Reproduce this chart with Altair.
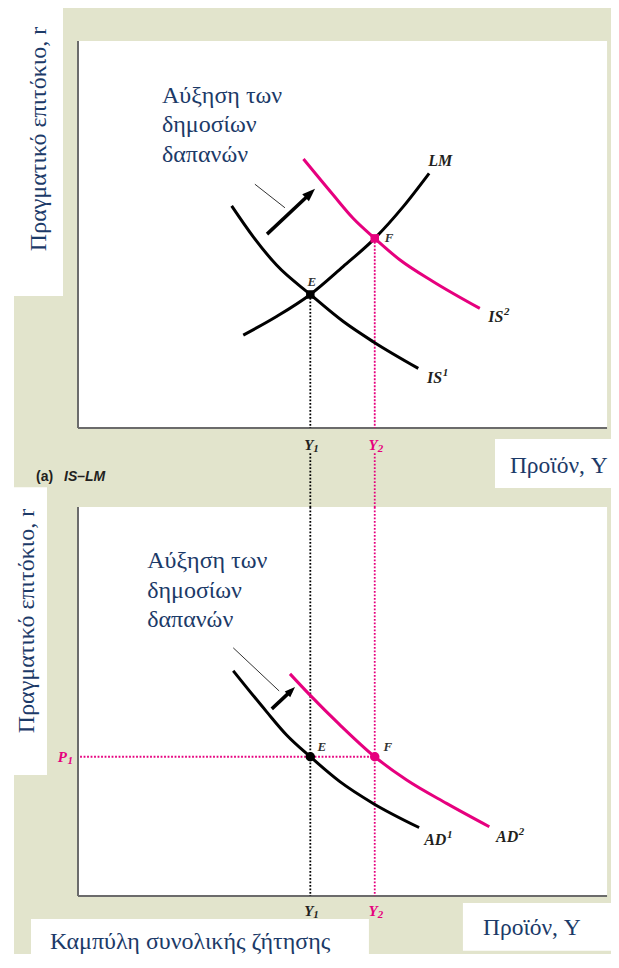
import altair as alt
import pandas as pd

# ---------------- data (output Y: 0-100 across a panel; r and P: 0-100 up a panel)
Y1, Y2 = 44.0, 56.2
R_E, R_F = 34.5, 49.0
P1 = 35.8

lm_u = [31.3, 37.6, 44.0, 50.2, 56.2, 61.6, 66.5]
lm_r = [24.0, 28.8, 34.5, 41.7, 49.0, 57.2, 65.8]
is1_u = [29.1, 33.2, 37.6, 44.0, 50.25, 55.9, 64.45]
is1_r = [57.4, 49.4, 42.1, 34.5, 27.5, 22.3, 15.4]
is2_u = [42.7, 48.35, 52.1, 56.2, 61.0, 67.3, 76.1]
is2_r = [69.5, 60.2, 54.2, 49.0, 43.4, 37.8, 30.9]
ad1_u = [29.4, 35.7, 39.5, 44.0, 49.6, 55.9, 64.6]
ad1_p = [57.9, 47.4, 41.4, 35.8, 29.4, 23.8, 17.6]
ad2_u = [40.15, 43.9, 49.6, 56.2, 62.25, 69.8, 77.9]
ad2_p = [57.1, 51.7, 44.0, 35.8, 29.8, 23.8, 17.8]

# shift arrows (start, shaft end, tip) and callout pointers
arrow_top = dict(u0=35.8, v0=50.1, u1=44.1, v1=60.7, ut=44.9, vt=61.8)
arrow_bot = dict(u0=36.7, v0=48.1, u1=40.4, v1=52.8, ut=41.1, vt=53.7)
ptr_top = dict(u0=33.5, v0=63.0, u1=39.2, v1=56.9)
ptr_bot = dict(u0=29.4, v0=63.8, u1=38.1, v1=52.7)

TXT_SHIFT = "Αύξηση των\nδημοσίων\nδαπανών"
TXT_RATE = "Πραγματικό επιτόκιο, r"
TXT_OUT = "Προϊόν, Y"
TXT_AD = "Καμπύλη συνολικής ζήτησης"

# ---------------- layout
W, H = 603, 946
PX_U, X0 = 5.28, 70
PX_R, R0 = 3.87, 420
PX_P, P0 = 3.89, 888
XDOM = [-X0 / PX_U, (W - X0) / PX_U]
RDOM = [(R0 - H) / PX_R, R0 / PX_R]
PDOM = [(P0 - H) / PX_P, P0 / PX_P]

NAVY = "#1c3a68"
PINK = "#e6007e"
BEIGE = "#e2e4cc"
AXIS = "#6b6b6b"
INK = "#231f20"

xs = alt.Scale(domain=XDOM, nice=False, zero=False)
rs = alt.Scale(domain=RDOM, nice=False, zero=False)
ps = alt.Scale(domain=PDOM, nice=False, zero=False)


def xq(f):
    return alt.X(f, type="quantitative", scale=xs, axis=None)


def yq(f, sc):
    return alt.Y(f, type="quantitative", scale=sc, axis=None)


def rects(rows, sc, color="white"):
    return alt.Chart(pd.DataFrame(rows)).mark_rect(color=color).encode(
        x=xq("x0"), x2="x1", y=yq("y0", sc), y2="y1")


def segs(rows, sc, **kw):
    return alt.Chart(pd.DataFrame(rows)).mark_rule(**kw).encode(
        x=xq("x0"), x2="x1", y=yq("y0", sc), y2="y1")


def curve(us, vs, sc, color):
    return alt.Chart(pd.DataFrame({"u": us, "v": vs})).mark_line(
        color=color, strokeWidth=3, interpolate="monotone").encode(
        x=xq("u"), y=yq("v", sc))


def points(rows, sc, shape, size):
    return alt.Chart(pd.DataFrame(rows)).mark_point(
        filled=True, shape=shape, size=size, opacity=1).encode(
        x=xq("u"), y=yq("v", sc), color=alt.Color("c:N", scale=None))


def texts(rows, sc, **kw):
    return alt.Chart(pd.DataFrame(rows)).mark_text(**kw).encode(
        x=xq("u"), y=yq("v", sc), text="t:N")


HEAD = "M0,0L-0.75,2L0.75,2Z"


def arrow(a, sc, width, size, angle):
    shaft = segs([dict(x0=a["u0"], x1=a["u1"], y0=a["v0"], y1=a["v1"])], sc,
                 color="black", strokeWidth=width, strokeCap="butt")
    head = alt.Chart(pd.DataFrame([dict(u=a["ut"], v=a["vt"])])).mark_point(
        filled=True, shape=HEAD, size=size, angle=angle, color="black",
        opacity=1, strokeWidth=0).encode(x=xq("u"), y=yq("v", sc))
    return [shaft, head]


def pointer(p, sc):
    return segs([dict(x0=p["u0"], x1=p["u1"], y0=p["v0"], y1=p["v1"])], sc,
                color="#333333", strokeWidth=1)


DOT = dict(strokeDash=[1.8, 1.7], strokeWidth=1.8)
LBL = dict(font="Liberation Serif", fontStyle="italic", fontWeight="bold",
           color=INK, fontSize=16, baseline="middle")
PT = dict(font="Liberation Serif", fontStyle="italic", fontWeight="bold",
          color="#333333", fontSize=13, baseline="middle")


def sup_label(rows, sc, base=16, sup=11):
    """main text (align right at u) followed by raised superscript."""
    main = texts([dict(u=r["u"], v=r["v"], t=r["t"]) for r in rows], sc,
                 align="right", dx=2, **{**LBL, "fontSize": base})
    s = texts([dict(u=r["u"], v=r["v"], t=r["s"]) for r in rows], sc,
              align="left", dx=2.5, dy=-5, **{**LBL, "fontSize": sup})
    return [main, s]


def sub_label(rows, sc, color):
    main = texts([dict(u=r["u"], v=r["v"], t=r["t"]) for r in rows], sc,
                 align="right", dx=3,
                 **{**LBL, "fontSize": 15, "color": color})
    s = texts([dict(u=r["u"], v=r["v"], t=r["s"]) for r in rows], sc,
              align="left", dx=3, dy=4,
              **{**LBL, "fontSize": 11, "color": color})
    return [main, s]


layers = []

# --- frames
layers.append(rects([
    dict(x0=XDOM[0], x1=-12.12, y0=RDOM[0], y1=RDOM[1]),
    dict(x0=XDOM[0], x1=-2.84, y0=34.1, y1=RDOM[1]),
    dict(x0=0, x1=100.2, y0=0, y1=100),
    dict(x0=78.98, x1=XDOM[1], y0=-15.5, y1=-2.84),
], rs))
layers.append(rects([
    dict(x0=0, x1=100.2, y0=0, y1=100),
    dict(x0=-12.12, x1=-5.87, y0=31.1, y1=105.1),
    dict(x0=-8.9, x1=55.1, y0=PDOM[0], y1=-5.9),
    dict(x0=72.9, x1=XDOM[1], y0=-14.1, y1=-1.8),
], ps))

# --- axes
layers.append(segs([dict(x0=0, x1=0, y0=0, y1=100),
                    dict(x0=0, x1=100.2, y0=0, y1=0)], rs,
                   color=AXIS, strokeWidth=2))
layers.append(segs([dict(x0=0, x1=0, y0=0, y1=100),
                    dict(x0=0, x1=100.2, y0=0, y1=0)], ps,
                   color=AXIS, strokeWidth=2))

# --- dotted guides
layers.append(segs([dict(x0=Y1, x1=Y1, y0=R_E, y1=0),
                    dict(x0=Y1, x1=Y1, y0=-6.5, y1=-20.5)], rs,
                   color="black", **DOT))
layers.append(segs([dict(x0=Y2, x1=Y2, y0=R_F, y1=0),
                    dict(x0=Y2, x1=Y2, y0=-6.5, y1=-20.5)], rs,
                   color=PINK, **DOT))
layers.append(segs([dict(x0=Y1, x1=Y1, y0=100, y1=0)], ps, color="black", **DOT))
layers.append(segs([dict(x0=Y2, x1=Y2, y0=100, y1=0),
                    dict(x0=0.4, x1=Y2, y0=P1, y1=P1)], ps, color=PINK, **DOT))

# --- curves
layers.append(curve(lm_u, lm_r, rs, "black"))
layers.append(curve(is1_u, is1_r, rs, "black"))
layers.append(curve(is2_u, is2_r, rs, PINK))
layers.append(curve(ad1_u, ad1_p, ps, "black"))
layers.append(curve(ad2_u, ad2_p, ps, PINK))

# --- arrows and pointers
layers += arrow(arrow_top, rs, 3.5, 169, 47)
layers += arrow(arrow_bot, ps, 3.5, 110, 46)
layers.append(pointer(ptr_top, rs))
layers.append(pointer(ptr_bot, ps))

# --- equilibrium points
layers.append(points([dict(u=Y1, v=R_E, c="black"),
                      dict(u=Y2, v=R_F, c=PINK)], rs, "square", 72))
layers.append(points([dict(u=Y1, v=P1, c="black"),
                      dict(u=Y2, v=P1, c=PINK)], ps, "circle", 90))

# --- curve labels
layers.append(texts([dict(u=68.6, v=69.1, t="LM")], rs, align="center", **LBL))
layers += sup_label([dict(u=68.6, v=12.8, t="IS", s="1"),
                     dict(u=80.2, v=28.8, t="IS", s="2")], rs)
layers += sup_label([dict(u=69.4, v=14.4, t="AD", s="1"),
                     dict(u=83.0, v=15.2, t="AD", s="2")], ps)
layers.append(texts([dict(u=44.3, v=37.7, t="E"),
                     dict(u=58.9, v=49.1, t="F")], rs, align="center", **PT))
layers.append(texts([dict(u=46.2, v=38.3, t="E"),
                     dict(u=58.7, v=38.3, t="F")], ps, align="center", **PT))

# --- Y1 / Y2 / P1 tick labels (letter + subscript)
for sc, v in ((rs, -4.4), (ps, -3.9)):
    layers += sub_label([dict(u=Y1, v=v, t="Y", s="1")], sc, INK)
    layers += sub_label([dict(u=Y2, v=v, t="Y", s="2")], sc, PINK)
layers.append(texts([dict(u=-2.1, v=P1, t="P")], ps, align="right",
                    **{**LBL, "fontSize": 15, "color": PINK}))
layers.append(texts([dict(u=-2.1, v=P1, t="1")], ps, align="left", dx=0.5, dy=4,
                    **{**LBL, "fontSize": 11, "color": PINK}))

# --- panel caption
layers.append(texts([dict(u=-7.95, v=-13.7, t="(a)")], rs, align="left",
                    baseline="alphabetic", font="Liberation Sans",
                    fontWeight="bold", fontSize=14, color=INK))
layers.append(texts([dict(u=-2.65, v=-13.7, t="IS–LM")], rs, align="left",
                    baseline="alphabetic", font="Liberation Sans",
                    fontWeight="bold", fontStyle="italic", fontSize=14,
                    color=INK))

# --- Greek annotations
SER = dict(font="Liberation Serif", color=NAVY)
layers.append(texts([dict(u=15.9, v=84.0, t=TXT_SHIFT)], rs, align="left",
                    baseline="alphabetic", lineBreak="\n", lineHeight=29.5,
                    fontSize=24, **SER))
layers.append(texts([dict(u=13.1, v=84.3, t=TXT_SHIFT)], ps, align="left",
                    baseline="alphabetic", lineBreak="\n", lineHeight=29.5,
                    fontSize=24, **SER))
layers.append(texts([dict(u=-7.4, v=74.7, t=TXT_RATE)], rs, align="center",
                    baseline="middle", angle=270, fontSize=24, **SER))
layers.append(texts([dict(u=-9.7, v=70.7, t=TXT_RATE)], ps, align="center",
                    baseline="middle", angle=270, fontSize=24, **SER))
layers.append(texts([dict(u=81.8, v=-11.6, t=TXT_OUT)], rs, align="left",
                    baseline="alphabetic", fontSize=23.5, **SER))
layers.append(texts([dict(u=76.7, v=-10.0, t=TXT_OUT)], ps, align="left",
                    baseline="alphabetic", fontSize=23.5, **SER))
layers.append(texts([dict(u=-5.3, v=-13.5, t=TXT_AD)], ps, align="left",
                    baseline="alphabetic", fontSize=24, **SER))

chart = alt.layer(*layers).resolve_scale(y="independent").properties(
    width=W, height=H, padding=0, background=BEIGE,
    autosize=alt.AutoSizeParams(type="none"),
).configure_view(stroke=None)

chart.save("out.html", embed_options={"renderer": "svg", "actions": False})
